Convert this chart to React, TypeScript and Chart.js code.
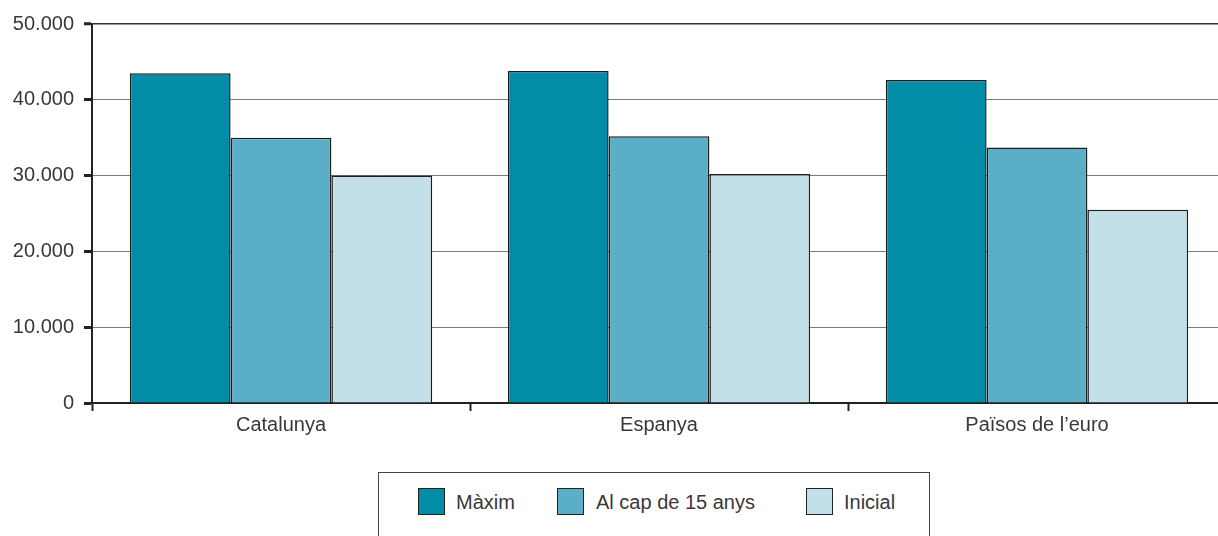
import React, { useEffect, useRef } from "react";
import { Chart, registerables } from "chart.js";

Chart.register(...registerables);

const categories = ["Catalunya", "Espanya", "Països de l’euro"];
const seriesNames = ["Màxim", "Al cap de 15 anys", "Inicial"];
const maxim = [43500, 43800, 42600];
const alCap = [35000, 35200, 33700];
const inicial = [30000, 30200, 25500];
const yTickValues = [0, 10000, 20000, 30000, 40000, 50000];
const colors = ["#028ca8", "#5aafc6", "#c3dfe7"];

const FONT = "'Liberation Sans', Arial, sans-serif";
const TEXT = "#383838";
const CANVAS_W = 1240;
const CANVAS_H = 440;

function fmt(v: number): string {
  return String(v).replace(/\B(?=(\d{3})+(?!\d))/g, ".");
}

export default function App() {
  const ref = useRef<HTMLCanvasElement | null>(null);

  useEffect(() => {
    if (!ref.current) return;
    const chart = new Chart(ref.current, {
      type: "bar",
      data: {
        labels: categories,
        datasets: [maxim, alCap, inicial].map((d, i) => ({
          label: seriesNames[i],
          data: d,
          backgroundColor: colors[i],
          borderColor: "#1e1e1e",
          borderWidth: 1.5,
          categoryPercentage: 0.8,
          barPercentage: 1.0,
        })),
      },
      options: {
        responsive: false,
        animation: false,
        layout: { padding: { top: 24, right: 14, left: 0, bottom: 0 } },
        plugins: { legend: { display: false }, tooltip: { enabled: false } },
        scales: {
          x: {
            type: "category",
            offset: true,
            grid: {
              offset: true,
              drawOnChartArea: false,
              drawTicks: true,
              tickLength: 8,
              tickColor: "#222222",
              tickWidth: 2,
            },
            border: { display: true, color: "#222222", width: 2 },
            ticks: { font: { family: FONT, size: 20 }, color: TEXT, padding: 2 },
            afterFit: (s: any) => {
              s.height = CANVAS_H - 403;
            },
          },
          y: {
            min: 0,
            max: 50000,
            afterBuildTicks: (s: any) => {
              s.ticks = yTickValues.map((v) => ({ value: v }));
            },
            grid: {
              color: (ctx: any) => (ctx.tick && ctx.tick.value === 50000 ? "#333333" : "#7a7a7a"),
              lineWidth: (ctx: any) => (ctx.tick && ctx.tick.value === 50000 ? 1.5 : 1),
              tickLength: 8,
              tickColor: "#222222",
              tickWidth: 3,
            },
            border: { display: true, color: "#222222", width: 2 },
            ticks: {
              font: { family: FONT, size: 20 },
              color: TEXT,
              padding: 10,
              callback: (v: any) => fmt(Number(v)),
            },
            afterFit: (s: any) => {
              s.width = 92;
            },
          },
        },
      },
    });
    return () => chart.destroy();
  }, []);

  const legendItem = (i: number, boxLeft: number, textLeft: number) => (
    <React.Fragment key={i}>
      <div
        style={{
          position: "absolute",
          left: boxLeft,
          top: 488,
          width: 25,
          height: 25,
          background: colors[i],
          border: "1px solid #222",
        }}
      />
      <div
        style={{
          position: "absolute",
          left: textLeft,
          top: 489,
          height: 27,
          lineHeight: "27px",
          fontFamily: FONT,
          fontSize: 20,
          color: TEXT,
          whiteSpace: "nowrap",
        }}
      >
        {seriesNames[i]}
      </div>
    </React.Fragment>
  );

  return (
    <div
      style={{
        position: "fixed",
        left: 0,
        top: 0,
        width: 1218,
        height: 536,
        overflow: "hidden",
        background: "#ffffff",
      }}
    >
      <canvas
        ref={ref}
        width={CANVAS_W}
        height={CANVAS_H}
        style={{ position: "absolute", left: 0, top: 0, width: CANVAS_W, height: CANVAS_H }}
      />
      <div
        style={{
          position: "absolute",
          left: 378,
          top: 472,
          width: 552,
          height: 90,
          border: "1px solid #444",
          boxSizing: "border-box",
        }}
      />
      {legendItem(0, 418, 456)}
      {legendItem(1, 557, 596)}
      {legendItem(2, 806, 844)}
    </div>
  );
}
